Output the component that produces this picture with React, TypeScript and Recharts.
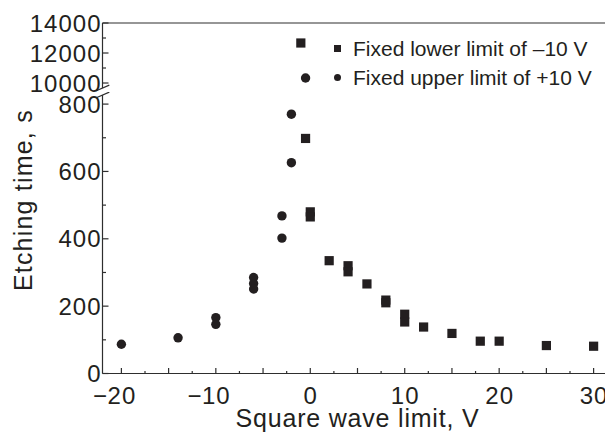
import React from 'react';
import { ScatterChart, Scatter, XAxis, YAxis, Legend, ReferenceLine } from 'recharts';

const FONT = '"Liberation Sans", Arial, Helvetica, sans-serif';
const INK = '#231f20';
const AXIS = '#2e2e2e';
const SW = 1.2;

// Series: fixed lower limit of -10 V (squares); x = varied upper limit
const lowerFixedX = [-1, -0.5, 0, 0, 2, 4, 4, 6, 8, 8, 10, 10, 12, 15, 18, 20, 25, 30];
const lowerFixedY = [12667, 698, 480, 465, 335, 320, 302, 266, 218, 210, 176, 153, 138, 119, 96, 96, 83, 81];

// Series: fixed upper limit of +10 V (circles); x = varied lower limit
const upperFixedX = [-20, -14, -10, -10, -6, -6, -6, -3, -3, -2, -2, -0.5];
const upperFixedY = [87, 106, 166, 146, 285, 267, 251, 468, 402, 770, 626, 10333];

const seriesNames = ['Fixed lower limit of \u201310 V', 'Fixed upper limit of +10 V'];

const xDomain = [-22, 32];
const lowerYDomain = [0, 827];
const upperYDomain = [9667, 14000];
const BREAK_VALUE = 5000;

const xTicks = [-20, -17.5, -15, -12.5, -10, -7.5, -5, -2.5, 0, 2.5, 5, 7.5, 10, 12.5, 15, 17.5, 20, 22.5, 25, 27.5, 30];
const lowerYTicks = [0, 100, 200, 300, 400, 500, 600, 700, 800, lowerYDomain[1]];
const upperYTicks = [upperYDomain[0], 10000, 11000, 12000, 13000, 14000];

const toPoints = (xs: number[], ys: number[]) => xs.map((x, i) => ({ x, y: ys[i] }));
const squares = toPoints(lowerFixedX, lowerFixedY);
const circles = toPoints(upperFixedX, upperFixedY);

const W = 605; // page width 613 minus the body margin
const LEFT = 94.5;
const RIGHT_M = 0.5;
const PLOT_W = W - LEFT - RIGHT_M;
const UPPER_H = 84;
const LOWER_H = 347;

const SquareShape = (p: any) => (
  <rect x={p.cx - 4.6} y={p.cy - 4.6} width={9.2} height={9.2} fill={INK} />
);
const CircleShape = (p: any) => <circle cx={p.cx} cy={p.cy} r={4.7} fill={INK} />;

const XTick = (props: any) => {
  const { x, y, payload } = props;
  const v = payload.value;
  const major = Math.abs(v % 5) < 1e-6;
  const labelled = Math.abs(v % 10) < 1e-6;
  const digits = String(Math.abs(v));
  const half = (digits.length * 0.556 * 24 + (digits.length - 1) * 1) / 2;
  return (
    <g>
      <line x1={x} x2={x} y1={y} y2={y - (major ? 5.5 : 2.5)} stroke={AXIS} strokeWidth={SW} />
      {labelled && (
        <text x={x + 0.5} y={y + 30.5} textAnchor="middle" fontFamily={FONT} fontSize={24} letterSpacing={1} fill={INK}>
          {digits}
        </text>
      )}
      {labelled && v < 0 && (
        <text x={x - half - 0.5} y={y + 30.5} textAnchor="end" fontFamily={FONT} fontSize={24} fill={INK}>
          {'\u2212'}
        </text>
      )}
    </g>
  );
};

const makeYTick = (labelEvery: number, breakValue: number, breakSide: 'top' | 'bottom') => (props: any) => {
  const { x, y, payload } = props;
  const v = payload.value;
  if (v === breakValue) {
    const conn = breakSide === 'bottom' ? [y, y + 4] : [y - 3, y];
    return (
      <g>
        <line x1={x - 6.2} y1={y + 2.7} x2={x + 6.8} y2={y - 2.9} stroke={AXIS} strokeWidth={SW} />
        <line x1={x + PLOT_W} x2={x + PLOT_W} y1={conn[0]} y2={conn[1]} stroke={AXIS} strokeWidth={SW} />
      </g>
    );
  }
  const labelled = v % labelEvery === 0;
  return (
    <g>
      <line x1={x} x2={x + (labelled ? 6 : 3.5)} y1={y} y2={y} stroke={AXIS} strokeWidth={SW} />
      {labelled && (
        <text x={x - 1} y={y} dy="0.36em" textAnchor="end" fontFamily={FONT} fontSize={24} letterSpacing={1} fill={INK}>
          {v}
        </text>
      )}
    </g>
  );
};

const upperTick = makeYTick(2000, upperYDomain[0], 'bottom');
const lowerTick = makeYTick(200, lowerYDomain[1], 'top');

const LegendContent = (props: any) => {
  const items = props.payload || [];
  return (
    <div style={{ fontFamily: FONT, fontSize: 21, color: INK }}>
      {items.map((it: any) => (
        <div key={it.value} style={{ display: 'flex', alignItems: 'center', height: 29, whiteSpace: 'nowrap' }}>
          <div style={{ width: 14, height: 14, marginRight: 9, display: 'flex', alignItems: 'center', justifyContent: 'center', flex: 'none' }}>
            <div
              style={{
                width: 7,
                height: 7,
                background: INK,
                borderRadius: it.type === 'circle' ? '50%' : 0,
              }}
            />
          </div>
          <span>{it.value}</span>
        </div>
      ))}
    </div>
  );
};

export default function App() {
  const upperSquares = squares.filter((d) => d.y >= BREAK_VALUE);
  const upperCircles = circles.filter((d) => d.y >= BREAK_VALUE);
  const lowerSquares = squares.filter((d) => d.y < BREAK_VALUE);
  const lowerCircles = circles.filter((d) => d.y < BREAK_VALUE);

  return (
    <div>
      {/* Upper segment of the broken y axis */}
      <ScatterChart width={W} height={UPPER_H} margin={{ top: 15, right: RIGHT_M, bottom: 4, left: 0 }}>
        <XAxis dataKey="x" type="number" domain={xDomain} hide />
        <YAxis
          dataKey="y"
          type="number"
          domain={upperYDomain}
          ticks={upperYTicks}
          interval={0}
          width={LEFT}
          tickSize={0}
          tickMargin={0}
          tickLine={false}
          tick={upperTick}
          axisLine={{ stroke: AXIS, strokeWidth: SW }}
        />
        <ReferenceLine y={upperYDomain[1]} stroke={AXIS} strokeWidth={SW} />
        <ReferenceLine x={xDomain[1]} stroke={AXIS} strokeWidth={SW} />
        <Legend
          layout="vertical"
          align="center"
          verticalAlign="middle"
          content={LegendContent}
          wrapperStyle={{ left: 322, top: 26, width: 283, height: 58 }}
        />
        <Scatter name={seriesNames[0]} data={upperSquares} shape={SquareShape} legendType="square" fill={INK} isAnimationActive={false} />
        <Scatter name={seriesNames[1]} data={upperCircles} shape={CircleShape} legendType="circle" fill={INK} isAnimationActive={false} />
      </ScatterChart>

      {/* Lower segment */}
      <ScatterChart width={W} height={LOWER_H} margin={{ top: 3, right: RIGHT_M, bottom: 0, left: 0 }}>
        <XAxis
          dataKey="x"
          type="number"
          domain={xDomain}
          ticks={xTicks}
          interval={0}
          height={65.5}
          tickSize={0}
          tickMargin={0}
          tickLine={false}
          tick={(p: any) => <XTick {...p} />}
          axisLine={{ stroke: AXIS, strokeWidth: SW }}
          label={{
            value: 'Square wave limit, V',
            position: 'insideBottom',
            offset: 12,
            fontFamily: FONT,
            fontSize: 25,
            letterSpacing: 0.8,
            fill: INK,
          }}
        />
        <YAxis
          dataKey="y"
          type="number"
          domain={lowerYDomain}
          ticks={lowerYTicks}
          interval={0}
          width={LEFT}
          tickSize={0}
          tickMargin={0}
          tickLine={false}
          tick={lowerTick}
          axisLine={{ stroke: AXIS, strokeWidth: SW }}
          label={{
            value: 'Etching time, s',
            angle: -90,
            position: 'insideLeft',
            offset: 14.8,
            dy: 56.85,
            fontFamily: FONT,
            fontSize: 25,
            letterSpacing: 1.2,
            fill: INK,
          }}
        />
        <ReferenceLine x={xDomain[1]} stroke={AXIS} strokeWidth={SW} />
        <Scatter name={seriesNames[0]} data={lowerSquares} shape={SquareShape} legendType="square" fill={INK} isAnimationActive={false} />
        <Scatter name={seriesNames[1]} data={lowerCircles} shape={CircleShape} legendType="circle" fill={INK} isAnimationActive={false} />
      </ScatterChart>
    </div>
  );
}
